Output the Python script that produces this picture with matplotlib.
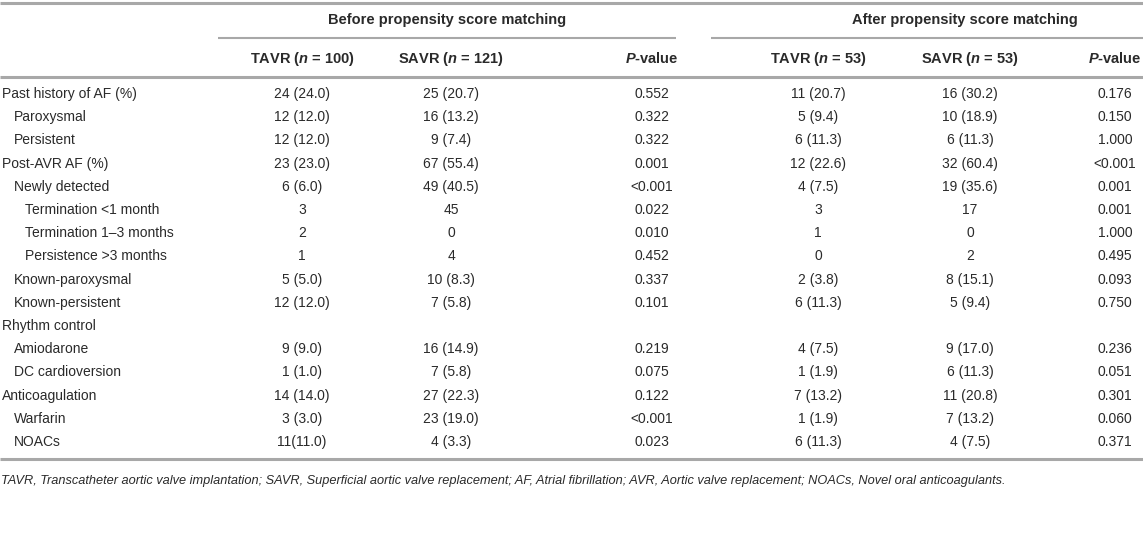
import matplotlib
matplotlib.use("Agg")
import matplotlib.pyplot as plt

# table content
labels = ["Past history of AF (%)", "Paroxysmal", "Persistent", "Post-AVR AF (%)",
          "Newly detected", "Termination <1 month", "Termination 1\u20133 months",
          "Persistence >3 months", "Known-paroxysmal", "Known-persistent",
          "Rhythm control", "Amiodarone", "DC cardioversion", "Anticoagulation",
          "Warfarin", "NOACs"]
indent = [0, 1, 1, 0, 1, 2, 2, 2, 1, 1, 0, 1, 1, 0, 1, 1]

before_tavr = ["24 (24.0)", "12 (12.0)", "12 (12.0)", "23 (23.0)", "6 (6.0)", "3", "2", "1",
               "5 (5.0)", "12 (12.0)", "", "9 (9.0)", "1 (1.0)", "14 (14.0)", "3 (3.0)", "11(11.0)"]
before_savr = ["25 (20.7)", "16 (13.2)", "9 (7.4)", "67 (55.4)", "49 (40.5)", "45", "0", "4",
               "10 (8.3)", "7 (5.8)", "", "16 (14.9)", "7 (5.8)", "27 (22.3)", "23 (19.0)", "4 (3.3)"]
before_p = ["0.552", "0.322", "0.322", "0.001", "<0.001", "0.022", "0.010", "0.452",
            "0.337", "0.101", "", "0.219", "0.075", "0.122", "<0.001", "0.023"]
after_tavr = ["11 (20.7)", "5 (9.4)", "6 (11.3)", "12 (22.6)", "4 (7.5)", "3", "1", "0",
              "2 (3.8)", "6 (11.3)", "", "4 (7.5)", "1 (1.9)", "7 (13.2)", "1 (1.9)", "6 (11.3)"]
after_savr = ["16 (30.2)", "10 (18.9)", "6 (11.3)", "32 (60.4)", "19 (35.6)", "17", "0", "2",
              "8 (15.1)", "5 (9.4)", "", "9 (17.0)", "6 (11.3)", "11 (20.8)", "7 (13.2)", "4 (7.5)"]
after_p = ["0.176", "0.150", "1.000", "<0.001", "0.001", "0.001", "1.000", "0.495",
           "0.093", "0.750", "", "0.236", "0.051", "0.301", "0.060", "0.371"]

groups = ["Before propensity score matching", "After propensity score matching"]
arms = ["TAVR", "SAVR", None, "TAVR", "SAVR", None]
arm_n = ["100", "121", None, "53", "53", None]
footnote = ("TAVR, Transcatheter aortic valve implantation; SAVR, Superficial aortic valve replacement; "
            "AF, Atrial fibrillation; AVR, Aortic valve replacement; NOACs, Novel oral anticoagulants.")

plt.rcParams["font.family"] = ["Liberation Sans", "DejaVu Sans"]
plt.rcParams["mathtext.fontset"] = "custom"
plt.rcParams["mathtext.rm"] = "Liberation Sans:bold"
plt.rcParams["mathtext.it"] = "Liberation Sans:italic:bold"
plt.rcParams["mathtext.bf"] = "Liberation Sans:bold"

W, H = 1143, 548
fig = plt.figure(figsize=(W / 100, H / 100), dpi=100)
ax = fig.add_axes([0, 0, 1, 1])
ax.set_xlim(0, W)
ax.set_ylim(H, 0)
ax.axis("off")

txt = "#2a2a2a"
rule = "#a8a8a8"
fs_head = 10.5
fs = 10.0
off = 5  # centre -> baseline offset in pixels

col_x = [302, 451, 652, 818, 970, 1115]
cols = [before_tavr, before_savr, before_p, after_tavr, after_savr, after_p]

# rules
ax.plot([0, W], [3, 3], color=rule, lw=2.2, solid_capstyle="butt")
ax.plot([218, 676], [38, 38], color=rule, lw=1.5, solid_capstyle="butt")
ax.plot([711, W], [38, 38], color=rule, lw=1.5, solid_capstyle="butt")
ax.plot([0, W], [77, 77], color=rule, lw=2.2, solid_capstyle="butt")
ax.plot([0, W], [459, 459], color=rule, lw=2.2, solid_capstyle="butt")

# headers
ax.text(447, 19 + off, groups[0], ha="center", va="baseline", fontsize=fs_head, fontweight="bold", color=txt)
ax.text(965, 19 + off, groups[1], ha="center", va="baseline", fontsize=fs_head, fontweight="bold", color=txt)
for x, a, n in zip(col_x, arms, arm_n):
    if a is None:
        s = r"$\mathit{P}$" + "-value"
    else:
        s = a + r" ($\mathit{n}$ = " + n + ")"
    ax.text(x, 58 + off, s, ha="center", va="baseline", fontsize=fs_head, fontweight="bold", color=txt)

# body
y0, dy = 93, 23.2
for i, lab in enumerate(labels):
    y = y0 + i * dy + off
    ax.text(2 + 11.5 * indent[i], y, lab, ha="left", va="baseline", fontsize=fs, color=txt)
    for x, c in zip(col_x, cols):
        ax.text(x, y, c[i], ha="center", va="baseline", fontsize=fs, color=txt)

ax.text(1, 480 + 4, footnote, ha="left", va="baseline", fontsize=9.2, style="italic", color=txt)

fig.savefig("out.png", dpi=100)
